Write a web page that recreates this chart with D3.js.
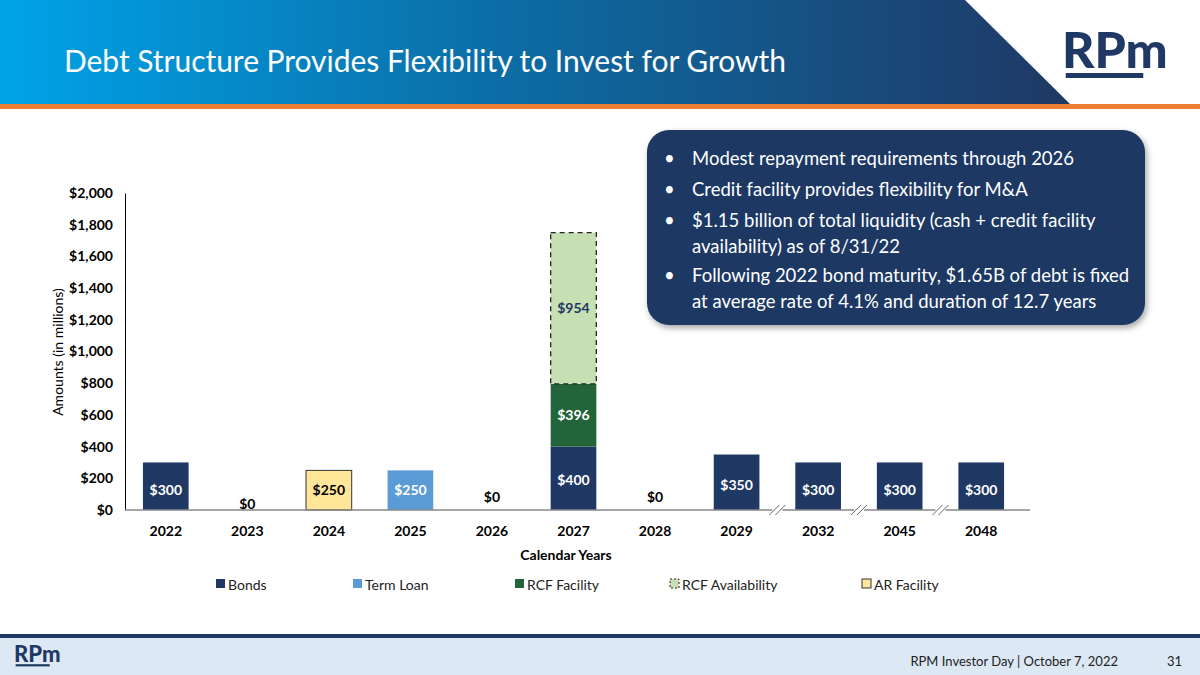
<!DOCTYPE html>
<html><head><meta charset="utf-8">
<script src="https://cdn.jsdelivr.net/npm/d3@7"></script>
<style>body{margin:0}svg{display:block}text{font-family:Lato,"Open Sans",sans-serif}</style>
</head><body>
<svg id="chart" width="1200" height="675"></svg>
<script>
var years = ['2022','2023','2024','2025','2026','2027','2028','2029','2032','2045','2048'];
var bonds = [300,0,0,0,0,400,0,350,300,300,300];
var termLoan = [0,0,0,250,0,0,0,0,0,0,0];
var rcfFacility = [0,0,0,0,0,396,0,0,0,0,0];
var rcfAvailability = [0,0,0,0,0,954,0,0,0,0,0];
var arFacility = [0,0,250,0,0,0,0,0,0,0,0];
var yTicks = [0,200,400,600,800,1000,1200,1400,1600,1800,2000];
var bullets = [
  ['Modest repayment requirements through 2026'],
  ['Credit facility provides flexibility for M&A'],
  ['$1.15 billion of total liquidity (cash + credit facility', 'availability) as of 8/31/22'],
  ['Following 2022 bond maturity, $1.65B of debt is fixed', 'at average rate of 4.1% and duration of 12.7 years']
];

var navy = '#1f3864', blue = '#5b9bd5', green = '#23643a', lightGreen = '#c6e0b4', yellow = '#ffe699';
var svg = d3.select('#chart');
var defs = svg.append('defs');

// header
var grad = defs.append('linearGradient').attr('id', 'hg');
grad.append('stop').attr('offset', '0%').attr('stop-color', '#00a3e8');
grad.append('stop').attr('offset', '45%').attr('stop-color', '#0b6fa8');
grad.append('stop').attr('offset', '100%').attr('stop-color', '#1f3864');
svg.append('path').attr('d', 'M0,0H965L1070,104H0Z').attr('fill', 'url(#hg)');
svg.append('rect').attr('x', 0).attr('y', 104).attr('width', 1200).attr('height', 5).attr('fill', '#ed7d31');
svg.append('text').attr('x', 64).attr('y', 72).attr('fill', '#fff').attr('font-size', 30)
  .attr('textLength', 722).text('Debt Structure Provides Flexibility to Invest for Growth');

function logo(g, s) {
  g.append('text').attr('x', 0).attr('y', 0).attr('font-size', 40 * s).attr('font-weight', 900)
    .attr('fill', navy).attr('font-family', '"Liberation Sans Narrow",Arial').text('RPm');
  g.append('rect').attr('x', 3 * s).attr('y', 4 * s).attr('width', 62 * s).attr('height', 4 * s).attr('fill', navy);
}
logo(svg.append('g').attr('transform', 'translate(1062,68)'), 1.25);

// footer
svg.append('rect').attr('x', 0).attr('y', 634).attr('width', 1200).attr('height', 4).attr('fill', navy);
svg.append('rect').attr('x', 0).attr('y', 638).attr('width', 1200).attr('height', 37).attr('fill', '#dde8f5');
logo(svg.append('g').attr('transform', 'translate(14,662)'), 0.55);
svg.append('text').attr('x', 1118).attr('y', 666).attr('text-anchor', 'end').attr('font-size', 13)
  .attr('font-family', 'Arial').attr('fill', '#222').text('RPM Investor Day | October 7, 2022');
svg.append('text').attr('x', 1182).attr('y', 666).attr('text-anchor', 'end').attr('font-size', 13)
  .attr('font-family', 'Arial').attr('fill', '#222').text('31');

// chart
var x = d3.scaleBand().domain(years).range([125, 1022]).paddingInner(0.44).paddingOuter(0.22);
var y = d3.scaleLinear().domain([0, 2000]).range([510, 193]);

var yAxis = svg.append('g').attr('transform', 'translate(125,0)')
  .call(d3.axisLeft(y).tickValues(yTicks).tickSize(0).tickPadding(12).tickFormat(function (d) { return '$' + d3.format(',')(d); }));
yAxis.select('.domain').attr('stroke', '#000');
yAxis.selectAll('text').attr('font-size', 14).attr('font-weight', 700).attr('fill', '#000').attr('font-family', 'Lato');

var stacks = [
  { name: 'Bonds', vals: bonds, fill: navy, label: '#fff' },
  { name: 'Term Loan', vals: termLoan, fill: blue, label: '#fff' },
  { name: 'RCF Facility', vals: rcfFacility, fill: green, label: '#fff' },
  { name: 'RCF Availability', vals: rcfAvailability, fill: lightGreen, label: navy, dash: true },
  { name: 'AR Facility', vals: arFacility, fill: yellow, label: '#000', stroke: '#333' }
];
var base = years.map(function () { return 0; });
var labels = [];
stacks.forEach(function (s) {
  years.forEach(function (yr, i) {
    var v = s.vals[i];
    if (v > 0) {
      var r = svg.append('rect').attr('x', x(yr)).attr('width', x.bandwidth())
        .attr('y', y(base[i] + v)).attr('height', y(base[i]) - y(base[i] + v)).attr('fill', s.fill);
      if (s.dash) r.attr('stroke', '#222').attr('stroke-width', 1.3).attr('stroke-dasharray', '5,4');
      if (s.stroke) r.attr('stroke', s.stroke).attr('stroke-width', 1);
      var mid = base[i] > 0 ? base[i] + v / 2 : (v === 400 ? 190 : (v === 350 ? 160 : 125));
      labels.push({ x: x(yr) + x.bandwidth() / 2, y: y(mid), t: '$' + v, c: s.label });
    }
    base[i] += v;
  });
});
years.forEach(function (yr, i) {
  if (base[i] === 0) labels.push({ x: x(yr) + x.bandwidth() / 2, y: i === 1 ? y(100) + 10 : y(100) + 3, t: '$0', c: '#000' });
});
svg.selectAll('.lbl').data(labels).enter().append('text')
  .attr('x', function (d) { return d.x; }).attr('y', function (d) { return d.y + 5; })
  .attr('text-anchor', 'middle').attr('font-size', 14).attr('font-weight', 700)
  .attr('fill', function (d) { return d.c; }).text(function (d) { return d.t; });

var xAxis = svg.append('g').attr('transform', 'translate(0,510)')
  .call(d3.axisBottom(x).tickSize(0).tickPadding(16).tickSizeOuter(0));
xAxis.select('.domain').attr('stroke', '#888').attr('stroke-width', 1.5).attr('d', 'M125,0H1030');
xAxis.selectAll('text').attr('font-size', 14).attr('font-weight', 700).attr('fill', '#000').attr('font-family', 'Lato');

// axis break marks between non-contiguous years
[7, 8, 9].forEach(function (i) {
  var bx = (x(years[i]) + x.bandwidth() + x(years[i + 1])) / 2;
  var g = svg.append('g').attr('transform', 'translate(' + bx + ',510)');
  g.append('rect').attr('x', -5).attr('y', -3).attr('width', 10).attr('height', 6).attr('fill', '#fff');
  [-3, 3].forEach(function (o) {
    g.append('line').attr('x1', o - 5).attr('y1', 5).attr('x2', o + 5).attr('y2', -5).attr('stroke', '#666');
  });
});

svg.append('text').attr('x', 566).attr('y', 560).attr('text-anchor', 'middle').attr('font-size', 14)
  .attr('font-weight', 700).text('Calendar Years');
svg.append('text').attr('transform', 'translate(63,352) rotate(-90)').attr('text-anchor', 'middle')
  .attr('font-size', 14).text('Amounts (in millions)');

// legend
var legX = [216, 353, 515, 670, 862];
stacks.forEach(function (s, i) {
  var g = svg.append('g').attr('transform', 'translate(' + legX[i] + ',590)');
  var r = g.append('rect').attr('x', 0).attr('y', -11).attr('width', 9).attr('height', 9).attr('fill', s.fill);
  if (s.dash) r.attr('stroke', '#222').attr('stroke-dasharray', '2,2');
  if (s.stroke) r.attr('stroke', s.stroke);
  g.append('text').attr('x', 12).attr('y', 0).attr('font-size', 14).attr('fill', '#222').text(s.name);
});

// callout
var sh = defs.append('filter').attr('id', 'sh').attr('x', '-10%').attr('y', '-10%').attr('width', '120%').attr('height', '130%');
sh.append('feDropShadow').attr('dx', 2).attr('dy', 3).attr('stdDeviation', 3).attr('flood-opacity', 0.35);
svg.append('rect').attr('x', 647).attr('y', 130).attr('width', 498).attr('height', 195).attr('rx', 22)
  .attr('fill', navy).attr('filter', 'url(#sh)');
var by = [165, 196, 227, 282];
bullets.forEach(function (b, i) {
  svg.append('text').attr('x', 664).attr('y', by[i]).attr('fill', '#fff').attr('font-size', 18.5).text('•');
  b.forEach(function (line, j) {
    svg.append('text').attr('x', 692).attr('y', by[i] + j * 26).attr('fill', '#fff').attr('font-size', 18.5).text(line);
  });
});
</script>
</body></html>
